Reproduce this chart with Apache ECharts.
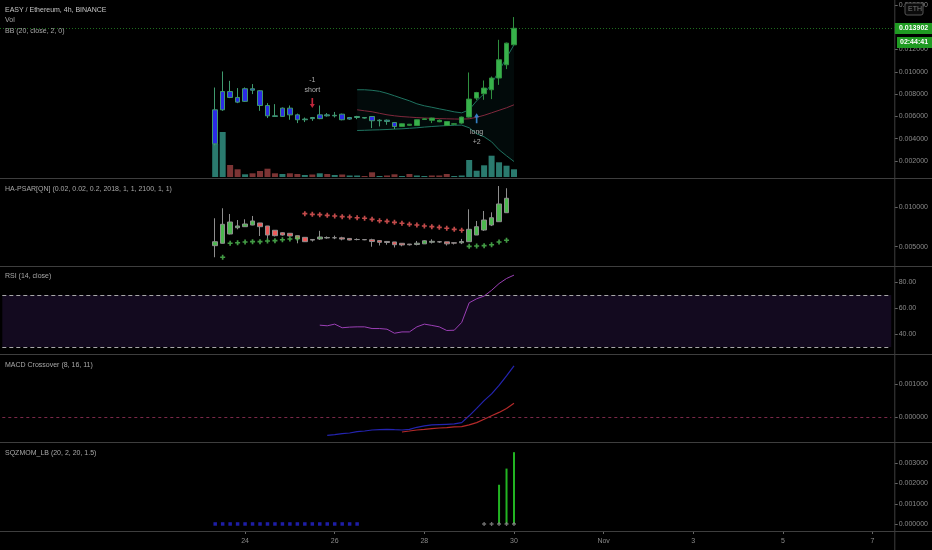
<!DOCTYPE html>
<html><head><meta charset="utf-8">
<script src="https://cdn.jsdelivr.net/npm/echarts@6/dist/echarts.min.js"></script>
<style>html,body{margin:0;padding:0;background:#000;}#c{width:932px;height:550px;}</style>
</head><body><div id="c"></div>
<script>
// ---------- DATA (EASY/ETH 4h, first bar 2018-10-23 08:00 UTC) ----------
const mainOpen  = [.00354,.00659,.00823,.00770,.00735,.00848,.00830,.00698,.00605,.00600,.00674,.00614,.00570,.00590,.00580,.00614,.00605,.00620,.00576,.00590,.00590,.00599,.00561,.00566,.00545,.00510,.00530,.00518,.00572,.00585,.00565,.00554,.00530,.00540,.00594,.00764,.00803,.00839,.00944,.01063,.01242];
const mainClose = [.00659,.00823,.00770,.00728,.00848,.00835,.00698,.00605,.00600,.00674,.00614,.00570,.00576,.00580,.00614,.00605,.00610,.00570,.00590,.00599,.00585,.00561,.00566,.00555,.00509,.00534,.00520,.00570,.00578,.00565,.00552,.00518,.00534,.00594,.00755,.00814,.00854,.00944,.01108,.01257,.013902];
const mainLow   = [.00340,.00650,.00764,.00719,.00730,.00800,.00650,.00585,.00595,.00595,.00570,.00540,.00549,.00560,.00575,.00598,.00590,.00565,.00570,.00575,.00580,.00495,.00510,.00525,.00486,.00505,.00515,.00516,.00568,.00540,.00548,.00515,.00528,.00533,.00590,.00745,.00749,.00755,.00883,.01024,.01240];
const mainHigh  = [.00859,.01003,.00919,.00854,.00860,.00890,.00835,.00719,.00710,.00680,.00698,.00625,.00590,.00595,.00698,.00630,.00640,.00625,.00595,.00605,.00592,.00603,.00575,.00572,.00550,.00538,.00532,.00572,.00582,.00588,.00572,.00556,.00538,.00598,.00994,.00820,.00922,.00958,.01287,.01262,.01491];
const volume    = [33,45,12,7.7,2.7,3.7,6,8.3,3.7,3,3.7,3,2,2.5,3.7,3,2,2.5,1.5,1.5,1,4.7,1,1.5,2.7,1,3,1.5,1,1.5,1.5,3,1,1.5,17,6.3,11.7,21.3,14.7,11.3,7.7];

const bbStart = 19;
const bbUpper  = [.00839,.00839,.00834,.00825,.00807,.00785,.00762,.00740,.00713,.00695,.00682,.00668,.00655,.00641,.00632,.00659,.00740,.00803,.00892,.01009,.01126,.01242];
const bbBasis  = [.006592,.006503,.006413,.006278,.006144,.006054,.005982,.005937,.005893,.005857,.005830,.005803,.005785,.005767,.005758,.005785,.005920,.006099,.006323,.006547,.006772,.007041];
const bbLower  = [.004736,.004754,.004780,.004798,.004825,.004861,.004888,.004933,.004978,.005041,.005094,.005139,.005175,.005202,.005220,.004978,.004440,.004171,.003722,.003005,.002466,.001955];

const signals = [
  {bar: 13, side: 'short', qty: '-1'},
  {bar: 35, side: 'long',  qty: '+2'}
];

const haOpen  = [.00513,.00543,.00660,.00739,.00752,.00773,.00799,.00761,.00707,.00676,.00669,.00639,.00618,.00591,.00597,.00610,.00613,.00612,.00604,.00590,.00590,.00588,.00577,.00566,.00560,.00543,.00533,.00528,.00536,.00556,.00562,.00561,.00550,.00549,.00563,.00647,.00710,.00773,.00815,.00928];
const haClose = [.00563,.00782,.00811,.00761,.00786,.00824,.00752,.00647,.00639,.00647,.00635,.00597,.00563,.00583,.00622,.00616,.00612,.00596,.00584,.00591,.00587,.00565,.00555,.00553,.00525,.00522,.00524,.00544,.00575,.00568,.00560,.00536,.00545,.00565,.00719,.00752,.00836,.00865,.01038,.01110];
const haLow   = [.00367,.00540,.00655,.00719,.00750,.00770,.00635,.00600,.00630,.00640,.00630,.00543,.00560,.00565,.00585,.00600,.00595,.00580,.00580,.00580,.00582,.00500,.00515,.00525,.00490,.00505,.00515,.00516,.00536,.00540,.00548,.00515,.00528,.00533,.00563,.00647,.00699,.00760,.00815,.00928];
const haHigh  = [.00858,.00984,.00912,.00836,.00845,.00887,.00800,.00762,.00708,.00680,.00670,.00640,.00620,.00595,.00700,.00630,.00640,.00625,.00606,.00605,.00592,.00600,.00577,.00572,.00560,.00543,.00533,.00572,.00582,.00593,.00572,.00561,.00552,.00598,.00971,.00824,.00950,.00933,.01264,.01236];
const psar    = [null,.00367,.00543,.00550,.00559,.00563,.00563,.00572,.00576,.00588,.00597,.00606,.00916,.00908,.00903,.00895,.00887,.00878,.00874,.00865,.00858,.00845,.00827,.00820,.00807,.00795,.00782,.00773,.00761,.00752,.00744,.00732,.00719,.00707,.00505,.00509,.00513,.00525,.00559,.00581];

const rsiStart = 14;
const rsi = [46.8,46.3,47.6,44.8,45.3,45.5,45.5,44.2,44.2,43.7,40.6,41.6,41.6,45.5,47.6,46.6,45.5,42.7,42.9,48.9,64.0,67.1,69.2,73.6,78.8,82.7,85.3];

const macdStart = 15;
const macd = [-0.000544,-0.000522,-0.000493,-0.000472,-0.000432,-0.000412,-0.000381,-0.000372,-0.000362,-0.000372,-0.000381,-0.000362,-0.000300,-0.000259,-0.000229,-0.000219,-0.000210,-0.000200,-0.000159,0.000045,0.000267,0.000501,0.000703,0.000958,0.001243,0.001547];
const signalStart = 25;
const signalLine = [-0.000441,-0.000412,-0.000381,-0.000362,-0.000341,-0.000321,-0.000310,-0.000290,-0.000280,-0.000229,-0.000159,-0.000058,0.000045,0.000147,0.000267,0.000420];

const sqzMomStart = 38;
const sqzMom = [0.00194, 0.00274, 0.00355];
const sqzState = ['on','on','on','on','on','on','on','on','on','on','on','on','on','on','on','on','on','on','on','on',
  null,null,null,null,null,null,null,null,null,null,null,null,null,null,null,null,
  'off','off','off','off','off'];

const xTickDates  = ['2018-10-24','2018-10-26','2018-10-28','2018-10-30','2018-11-01','2018-11-03','2018-11-05','2018-11-07'];
const xTickLabels = ['24','26','28','30','Nov','3','5','7'];
const mainTicks = [0.002,0.004,0.006,0.008,0.010,0.012,0.014,0.016];
const haTicks   = [0.005,0.010];
const rsiTicks  = [40,60,80];
const macdTicks = [0,0.001];
const sqzTicks  = [0,0.001,0.002,0.003];

// ---------- LAYOUT / STYLE ----------
const FIRST_BAR = Date.UTC(2018, 9, 23, 8);
const H4 = 4 * 3600 * 1000;
const PAD = 28, SLOTS = 119, SLOT_W = 7.47, GRID_LEFT = 2.3;
const GRID_W = SLOTS * SLOT_W;
const SQUEEZE_BARS = 25;
const FONT = 'Liberation Sans, Arial, sans-serif';
const LBL = '#8a8a8a';
const SEP = '#3e3e3e';

const cats = [];
for (let k = 0; k < SLOTS; k++) cats.push(new Date(FIRST_BAR + (k - PAD) * H4).toISOString().slice(0, 13));
const tickMap = {};
xTickDates.forEach((d, j) => tickMap[d + 'T00'] = xTickLabels[j]);
const isTick = (idx) => tickMap[cats[idx]] !== undefined;
const slot = (i) => PAD + i;
const seriesFrom = (start, arr) => arr.map((v, j) => [slot(start + j), v]);

const panels = [
  {top: 4.9,   height: 178.4}, // main
  {top: 77,    height: 100},   // volume
  {top: 167.3, height: 119.1}, // HA-PSAR
  {top: 256,   height: 104},   // RSI
  {top: 350.7, height: 99.9},  // MACD
  {top: 443.1, height: 101.1}, // SQZ
  {top: 440,   height: 91}     // date axis
];
const grid = panels.map(p => ({left: GRID_LEFT, width: GRID_W, top: p.top, height: p.height}));

const xAxis = panels.map((p, gi) => {
  const last = gi === panels.length - 1;
  return {
    type: 'category', gridIndex: gi, data: cats, boundaryGap: true, show: last,
    axisLine: {show: false}, splitLine: {show: false},
    axisTick: {show: last, alignWithLabel: true, interval: (i) => isTick(i), length: 3, lineStyle: {color: '#666'}},
    axisLabel: {show: last, interval: (i) => isTick(i), formatter: (v) => tickMap[v] || '',
                color: LBL, fontSize: 7, fontFamily: FONT, margin: 7}
  };
});

function yAx(gi, min, max, interval, ticks, fmt) {
  return {
    type: 'value', gridIndex: gi, position: 'right', offset: 3.5, min, max, interval, scale: false,
    axisLine: {show: false}, splitLine: {show: false},
    axisTick: {show: true, length: 3, lineStyle: {color: '#666'}, customValues: ticks},
    axisLabel: {customValues: ticks, color: LBL, fontSize: 7, fontFamily: FONT, margin: 4,
      formatter: (v) => ticks.some(t => Math.abs(t - v) < 1e-9) ? fmt(v) : ''}
  };
}
const f6 = v => v.toFixed(6);
const yAxis = [
  yAx(0, 0, 0.016, 0.002, mainTicks, f6),
  {type: 'value', gridIndex: 1, min: 0, max: 100, show: false},
  yAx(2, 0, 0.015, 0.005, haTicks, f6),
  yAx(3, 20, 100, 20, rsiTicks, v => v.toFixed(2)),
  yAx(4, -0.001, 0.002, 0.001, macdTicks, f6),
  yAx(5, -0.001, 0.004, 0.001, sqzTicks, f6),
  {type: 'value', gridIndex: 6, show: false}
];

const sqStyle = {color: '#2b2be6', color0: '#2b2be6', borderColor: '#3f9a6e', borderColor0: '#d4587f'};
const nStyle  = {color: '#37b24a', color0: '#d9864a', borderColor: '#2f8f3f', borderColor0: '#d9864a'};

const mainData = mainOpen.map((o, i) => ({
  value: [slot(i), o, mainClose[i], mainLow[i], mainHigh[i]],
  itemStyle: i < SQUEEZE_BARS ? sqStyle : nStyle
}));
const volData = volume.map((v, i) => ({
  value: [slot(i), v],
  itemStyle: {color: mainClose[i] >= mainOpen[i] ? '#2a7a6e' : '#7c3434'}
}));
const haData = haOpen.map((o, i) => [slot(i), o, haClose[i], haLow[i], haHigh[i]]);
const psarData = [];
psar.forEach((v, i) => {
  if (v == null) return;
  const below = v < (haOpen[i] + haClose[i]) / 2;
  psarData.push({value: [slot(i), v], itemStyle: {color: below ? '#52c255' : '#f25c5c'}});
});
const bbWidth = bbUpper.map((u, j) => u - bbLower[j]);
const sqzOn = [], sqzOff = [];
sqzState.forEach((s, i) => { if (s === 'on') sqzOn.push([slot(i), 0]); else if (s === 'off') sqzOff.push([slot(i), 0]); });

const arrowUp = 'path://M3,0 L6,4 L4,4 L4,10 L2,10 L2,4 L0,4 Z';
const crossPath = 'path://M2,0H4V2H6V4H4V6H2V4H0V2H2Z';
const sigData = signals.map(s => {
  const short = s.side === 'short';
  return {
    value: [slot(s.bar), short ? mainHigh[s.bar] : mainLow[s.bar]],
    symbolRotate: short ? 180 : 0,
    symbolOffset: [0, short ? -14 : 18],
    itemStyle: {color: short ? '#f0314a' : '#3f9bf0'},
    label: {show: true, position: short ? 'top' : 'bottom', distance: short ? 3 : 4,
            formatter: short ? (s.qty + '\n' + s.side) : (s.side + '\n' + s.qty),
            color: '#d6d6d6', fontSize: 7, fontFamily: FONT, lineHeight: 10}
  };
});

const lastClose = mainClose[mainClose.length - 1];

const series = [
  {type: 'candlestick', xAxisIndex: 0, yAxisIndex: 0, encode: {x: 0, y: [1, 2, 3, 4]}, data: mainData, barWidth: 5, z: 5},
  {type: 'bar', xAxisIndex: 1, yAxisIndex: 1, data: volData, barWidth: 6, z: 1},
  {type: 'line', xAxisIndex: 0, yAxisIndex: 0, data: seriesFrom(bbStart, bbLower), stack: 'bb', symbol: 'none', lineStyle: {opacity: 0}, z: 2},
  {type: 'line', xAxisIndex: 0, yAxisIndex: 0, data: seriesFrom(bbStart, bbWidth), stack: 'bb', symbol: 'none', lineStyle: {opacity: 0},
   areaStyle: {color: 'rgba(38,166,154,0.09)'}, z: 2},
  {type: 'line', xAxisIndex: 0, yAxisIndex: 0, data: seriesFrom(bbStart, bbUpper), symbol: 'none', lineStyle: {color: '#1f7360', width: 1}, z: 3},
  {type: 'line', xAxisIndex: 0, yAxisIndex: 0, data: seriesFrom(bbStart, bbLower), symbol: 'none', lineStyle: {color: '#1f7360', width: 1}, z: 3},
  {type: 'line', xAxisIndex: 0, yAxisIndex: 0, data: seriesFrom(bbStart, bbBasis), symbol: 'none', lineStyle: {color: '#80283c', width: 1}, z: 3},
  {type: 'scatter', xAxisIndex: 0, yAxisIndex: 0, data: sigData, symbol: arrowUp, symbolSize: [5, 10], z: 6},
  {type: 'candlestick', xAxisIndex: 2, yAxisIndex: 2, encode: {x: 0, y: [1, 2, 3, 4]}, data: haData, barWidth: 5,
   itemStyle: {color: '#4cb84f', color0: '#ee5a5a', borderColor: '#8e8e8e', borderColor0: '#8e8e8e'}},
  {type: 'scatter', xAxisIndex: 2, yAxisIndex: 2, data: psarData, symbol: crossPath, symbolSize: 5},
  {type: 'line', xAxisIndex: 3, yAxisIndex: 3, data: seriesFrom(rsiStart, rsi), symbol: 'none', lineStyle: {color: '#9b3fb5', width: 1}, z: 4,
   markArea: {silent: true, itemStyle: {color: '#130a1f'}, data: [[{yAxis: 30}, {yAxis: 70}]]},
   markLine: {silent: true, symbol: 'none', label: {show: false}, lineStyle: {color: '#a8a8a8', type: [4, 3], width: 1}, data: [{yAxis: 70}, {yAxis: 30}]}},
  {type: 'line', xAxisIndex: 4, yAxisIndex: 4, data: seriesFrom(macdStart, macd), symbol: 'none', lineStyle: {color: '#2424b0', width: 1.2}, z: 4,
   markLine: {silent: true, symbol: 'none', label: {show: false}, lineStyle: {color: '#7a2848', type: [3, 3], width: 1}, data: [{yAxis: 0}]}},
  {type: 'line', xAxisIndex: 4, yAxisIndex: 4, data: seriesFrom(signalStart, signalLine), symbol: 'none', lineStyle: {color: '#b52a2a', width: 1.2}, z: 4},
  {type: 'bar', xAxisIndex: 5, yAxisIndex: 5, data: seriesFrom(sqzMomStart, sqzMom), barWidth: 2, itemStyle: {color: '#22b422'}},
  {type: 'scatter', xAxisIndex: 5, yAxisIndex: 5, data: sqzOn, symbol: 'rect', symbolSize: 3.5, itemStyle: {color: '#2626d0'}, z: 5},
  {type: 'scatter', xAxisIndex: 5, yAxisIndex: 5, data: sqzOff, symbol: crossPath, symbolSize: 4, itemStyle: {color: '#8a8a8a'}, z: 5}
];

const txt = (x, y, t, color) => ({type: 'text', left: x, top: y, silent: true, z: 100,
  style: {text: t, fill: color || '#a8a8a8', font: '7px ' + FONT, textVerticalAlign: 'middle'}});
const hline = (y) => ({type: 'line', silent: true, z: 50, shape: {x1: 0, y1: y, x2: 932, y2: y}, style: {stroke: SEP, lineWidth: 1}});

const graphics = [
  hline(178.5), hline(266.5), hline(354.5), hline(442.5), hline(531.5),
  {type: 'line', silent: true, z: 50, shape: {x1: 894.8, y1: 0, x2: 894.8, y2: 550}, style: {stroke: SEP, lineWidth: 1}},
  txt(5, 7, 'EASY / Ethereum, 4h, BINANCE', '#c4c4c4'),
  txt(5, 17, 'Vol'),
  txt(5, 28, 'BB (20, close, 2, 0)'),
  txt(5, 186, 'HA-PSAR[QN] (0.02, 0.02, 0.2, 2018, 1, 1, 2100, 1, 1)'),
  txt(5, 273, 'RSI (14, close)'),
  txt(5, 362, 'MACD Crossover (8, 16, 11)'),
  txt(5, 450, 'SQZMOM_LB (20, 2, 20, 1.5)'),
  {type: 'rect', silent: true, z: 100, shape: {x: 905, y: 3, width: 18, height: 12, r: 2}, style: {fill: '#0b0b0b', stroke: '#555', lineWidth: 1}},
  {type: 'text', silent: true, z: 101, left: 908, top: 5.5, style: {text: 'ETH', fill: '#7a7a7a', font: '7px ' + FONT}}
];

const chart = echarts.init(document.getElementById('c'), null, {renderer: 'canvas'});
chart.setOption({backgroundColor: '#000', animation: false, grid, xAxis, yAxis, series, graphic: graphics});

const py = Math.round(chart.convertToPixel({yAxisIndex: 0}, lastClose)) + 0.5;
chart.setOption({graphic: graphics.concat([
  {type: 'line', silent: true, z: 4, shape: {x1: 0, y1: py, x2: 894, y2: py}, style: {stroke: '#1e6e1e', lineWidth: 1, lineDash: [1, 2]}},
  {type: 'rect', silent: true, z: 110, shape: {x: 894.8, y: py - 5.5, width: 38, height: 11}, style: {fill: '#1f9a22'}},
  {type: 'text', silent: true, z: 111, left: 899, top: py - 4, style: {text: lastClose.toFixed(6), fill: '#ffffff', font: 'bold 7px ' + FONT}},
  {type: 'rect', silent: true, z: 110, shape: {x: 897, y: py + 8.5, width: 35, height: 11}, style: {fill: '#1f9a22'}},
  {type: 'text', silent: true, z: 111, left: 900, top: py + 10, style: {text: '02:44:41', fill: '#ffffff', font: 'bold 7px ' + FONT}}
])});
</script></body></html>
